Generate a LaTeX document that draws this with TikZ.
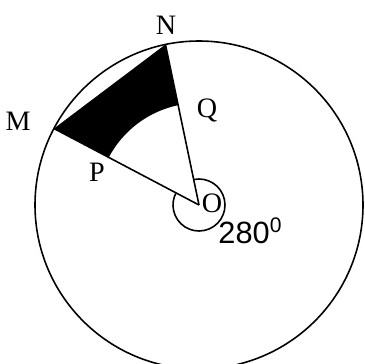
\documentclass[tikz,border=0pt]{standalone}
\usepackage{fontspec}
\setmainfont{Liberation Serif}
\newfontfamily\numfont{Liberation Sans}
\begin{document}
\begin{tikzpicture}[x=0.02cm,y=0.02cm,line width=0.9pt]
\tikzset{lbl/.style={inner sep=0pt,font=\fontsize{16}{18}\selectfont}}
\useasboundingbox (0,0) rectangle (365,363);
\clip (0,0) rectangle (365,363);
\coordinate (O) at (199,158);
\coordinate (N) at ([shift={(101.8:164)}]O);
\coordinate (M) at ([shift={(152.2:164)}]O);
\coordinate (Q) at ([shift={(101.8:102)}]O);
\coordinate (P) at ([shift={(152.2:102)}]O);
% shaded part
\fill (M) -- (N) -- (Q) arc[start angle=101.8, end angle=152.2, radius=102] -- cycle;
\draw (O) circle (164);
\draw (O) -- (N);
\draw (O) -- (M);
\draw ([shift={(101.8:26)}]O) arc[start angle=101.8, end angle=-207.8, radius=26];
\node[lbl] (n) at (166,338) {N};
\node[lbl] (m) at (18,242) {M};
\node[lbl] (q) at (207,253) {Q};
\node[lbl] (p) at (97,191) {P};
\node[lbl] (o) at (212,160) {O};
\node[inner sep=0pt,font=\numfont\fontsize{17.5}{19}\selectfont] (ang) at (250,132) {280\raisebox{0.65ex}{\fontsize{12}{14}\selectfont 0}};
\end{tikzpicture}
\end{document}
